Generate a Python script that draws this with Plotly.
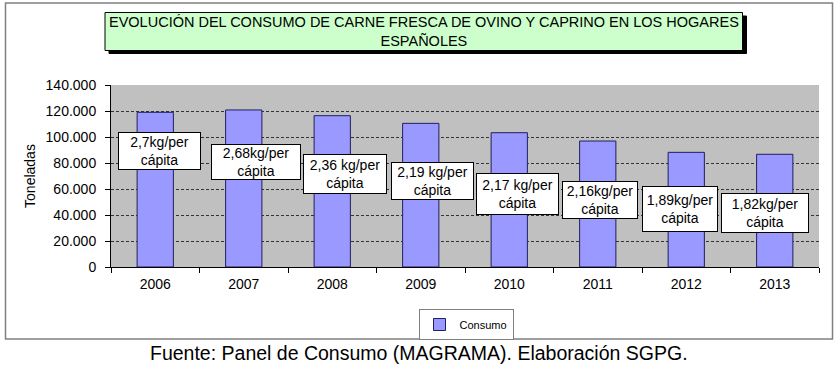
import plotly.graph_objects as go

# ---------------- data ----------------
years = ["2006", "2007", "2008", "2009", "2010", "2011", "2012", "2013"]
consumo = [119000, 120800, 116400, 110500, 103300, 96900, 88200, 86700]
per_capita = ["2,7kg/per", "2,68kg/per", "2,36 kg/per", "2,19 kg/per",
              "2,17 kg/per", "2,16kg/per", "1,89kg/per", "1,82kg/per"]
series_name = "Consumo"
title_text = "EVOLUCIÓN DEL CONSUMO DE CARNE FRESCA DE OVINO Y CAPRINO EN LOS HOGARES<br>ESPAÑOLES"
source_text = "Fuente: Panel de Consumo (MAGRAMA). Elaboración SGPG."
y_title = "Toneladas"

# ---------------- label layout (placement only) ----------------
label_y = [89600, 81150, 71500, 66500, 56150, 51500, 44600, 41500]
label_xshift = [4, 12, 12.5, 12, 8, 2, -6, -9.5]
label_w = [81, 88, 82, 81, 81, 74, 74, 86]
label_h = [36, 34, 38, 36, 40, 36, 44, 38]

FONT = "Liberation Sans, Arial, sans-serif"

fig = go.Figure()
fig.add_trace(go.Bar(
    x=years, y=consumo, name=series_name,
    marker=dict(color="#9999FF", line=dict(color="#1F1F5F", width=1)),
    width=0.41, showlegend=True,
))

annotations = []
for i, yr in enumerate(years):
    annotations.append(dict(
        x=i, y=label_y[i], xref="x", yref="y",
        text=per_capita[i] + "<br>cápita",
        showarrow=False, xshift=label_xshift[i],
        font=dict(family=FONT, size=14, color="black"),
        bgcolor="white", bordercolor="black", borderwidth=1, borderpad=0,
        width=label_w[i], height=label_h[i], align="center", valign="middle",
    ))

W, H = 837, 367
L, R, T, B = 111, 18, 85, 100
pw, ph = W - L - R, H - T - B


def px_x(px):
    return (px - L) / pw


def px_y(py):
    return (H - B - py) / ph


# title text
annotations.append(dict(
    x=px_x(424), y=px_y(32), xref="paper", yref="paper",
    text=title_text, showarrow=False,
    font=dict(family=FONT, size=14.5, color="black"), align="center",
    xanchor="center", yanchor="middle",
))
# source
annotations.append(dict(
    x=px_x(419), y=px_y(353), xref="paper", yref="paper",
    text=source_text, showarrow=False,
    font=dict(family=FONT, size=19.5, color="black"),
    xanchor="center", yanchor="middle",
))

shapes = [
    # outer chart border
    dict(type="rect", xref="paper", yref="paper", layer="below",
         x0=px_x(5.5), x1=px_x(832.5), y0=px_y(3), y1=px_y(339),
         line=dict(color="#808080", width=1.5), fillcolor="rgba(0,0,0,0)"),
    # title shadow
    dict(type="rect", xref="paper", yref="paper",
         x0=px_x(109), x1=px_x(746.5), y0=px_y(16), y1=px_y(53.5),
         line=dict(color="black", width=1), fillcolor="black"),
    # title box
    dict(type="rect", xref="paper", yref="paper",
         x0=px_x(105), x1=px_x(742.5), y0=px_y(12.5), y1=px_y(50.5),
         line=dict(color="black", width=1), fillcolor="#CCFFCC"),
]

fig.update_layout(
    width=W, height=H,
    margin=dict(l=L, r=R, t=T, b=B, pad=0),
    paper_bgcolor="white", plot_bgcolor="#C0C0C0",
    separators=",.",
    font=dict(family=FONT, size=14, color="black"),
    bargap=0.59,
    showlegend=True,
    legend=dict(
        orientation="h", x=px_x(466), xanchor="center",
        y=px_y(309), yanchor="top",
        bordercolor="#808080", borderwidth=1, bgcolor="white",
        font=dict(family=FONT, size=11, color="black"),
        itemwidth=30, tracegroupgap=0,
    ),
    annotations=annotations,
    shapes=shapes,
    xaxis=dict(
        type="category", range=[-0.5, 7.5], showgrid=False,
        showline=True, linecolor="black", linewidth=1,
        ticks="outside", tickson="boundaries", ticklen=5, tickcolor="black",
        tickfont=dict(family=FONT, size=14, color="black"),
        ticklabelstandoff=4,
        zeroline=False,
    ),
    yaxis=dict(
        range=[0, 140000], tickvals=[0, 20000, 40000, 60000, 80000, 100000, 120000, 140000],
        tickformat=",.0f",
        showgrid=True, gridcolor="#333333", griddash="3px,2px", gridwidth=1,
        showline=True, linecolor="black", linewidth=1,
        ticks="outside", ticklen=5, tickcolor="black",
        tickfont=dict(family=FONT, size=14, color="black"),
        ticklabelstandoff=6,
        title=dict(text=y_title, font=dict(family=FONT, size=14, color="black"), standoff=6),
        zeroline=False,
    ),
)

fig.write_html("out.html", config={"displayModeBar": False},
               post_script="document.body.style.margin='0';")
